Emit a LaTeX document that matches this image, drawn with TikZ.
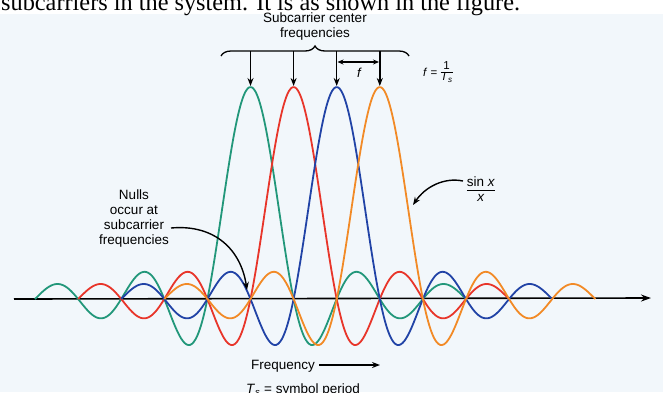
\documentclass[tikz,border=0pt]{standalone}
\usepackage{fontspec}
\setmainfont{Liberation Sans}
\newfontfamily\serifont{Liberation Serif}
\usetikzlibrary{arrows.meta,decorations.pathreplacing}
\definecolor{cgreen}{HTML}{22977A}
\definecolor{cred}{HTML}{E8352A}
\definecolor{cblue}{HTML}{2143A6}
\definecolor{corange}{HTML}{F28A26}
\definecolor{bgc}{HTML}{F2F7FB}
\begin{document}
\begin{tikzpicture}[x=1pt,y=-1pt,
  font=\fontsize{13.5}{15}\selectfont,
  curve/.style={line width=1.8pt},
  pointer/.style={line width=1.4pt,-{Stealth[length=8pt,width=6pt]}},
  dpointer/.style={line width=1.3pt,{Stealth[length=6pt,width=5pt]}-{Stealth[length=6pt,width=5pt]}},
  lbl/.style={inner sep=0pt,align=center}]
\useasboundingbox (0,0) rectangle (663,392);
\fill[bgc] (0,0) rectangle (663,392);
\fill[white] (0,0) rectangle (663,14);
% clipped sentence at top
\node[anchor=base west,inner sep=0pt,font=\serifont\fontsize{24.3}{26}\selectfont] (top) at (1,10) {subcarriers in the system. It is as shown in the figure.};
% axis
\coordinate (ax0) at (14,299);
\coordinate (ax1) at (651,298);
\draw[line width=1.6pt,-{Stealth[length=10pt,width=7pt]}] (ax0) -- (ax1);
% sinc curves
\foreach \c/\col in {250.5/cgreen,293.6/cred,336.7/cblue,379.8/corange}{
  \draw[curve,\col] plot[domain=-5:5,samples=240,smooth] ({\c+43.1*\x},{299-212*sin(180*\x)/(3.14159*\x)});
}
% brace and title
\draw[line width=1.3pt,decorate,decoration={brace,amplitude=10pt}] (221,56) -- (409,56);
\node[lbl] (title) at (315,27) {Subcarrier center\\frequencies};
% arrows to peaks
\foreach \i/\c in {1/250.5,2/293.6,3/336.7,4/379.8}{
  \coordinate (b\i) at (\c,51);
  \coordinate (p\i) at (\c,86);
  \draw[pointer] (b\i) -- (p\i);
}
% spacing f
\coordinate (fa) at (337.5,62);
\coordinate (fb) at (379,62);
\draw[dpointer] (fa) -- (fb);
\node[lbl,font=\fontsize{13}{14}\selectfont\itshape] (flab) at (359,73) {f};
\node[lbl,font=\fontsize{11.5}{12}\selectfont] (feq) at (438,73) {\textit{f} = \begin{tabular}{@{}c@{}}1\\[-2pt]\hline\rule{0pt}{9pt}\textit{T}\textsubscript{\textit{s}}\end{tabular}};
% sinc label
\node[lbl] (sinx) at (481,191) {\begin{tabular}{@{}c@{}}sin \textit{x}\\[-1pt]\hline\rule{0pt}{11pt}\textit{x}\end{tabular}};
\coordinate (ss) at (463,181);
\coordinate (st) at (413,205);
\draw[pointer] (ss) .. controls (444,177) and (425,187) .. (st);
% nulls label
\node[lbl] (nulls) at (134,219) {Nulls\\occur at\\subcarrier\\frequencies};
\coordinate (ns) at (171,228);
\coordinate (nt) at (247,290);
\draw[pointer] (ns) .. controls (215,224) and (241,250) .. (nt);
% frequency label
\node[anchor=base west,inner sep=0pt] (freq) at (251,369) {Frequency};
\coordinate (fr0) at (319,365);
\coordinate (fr1) at (380,365);
\draw[line width=1.4pt,-{Stealth[length=8pt,width=6pt]}] (fr0) -- (fr1);
\node[anchor=base west,inner sep=0pt] (ts) at (246,393) {\textit{T}\textsubscript{\textit{s}} = symbol period};
\end{tikzpicture}
\end{document}
